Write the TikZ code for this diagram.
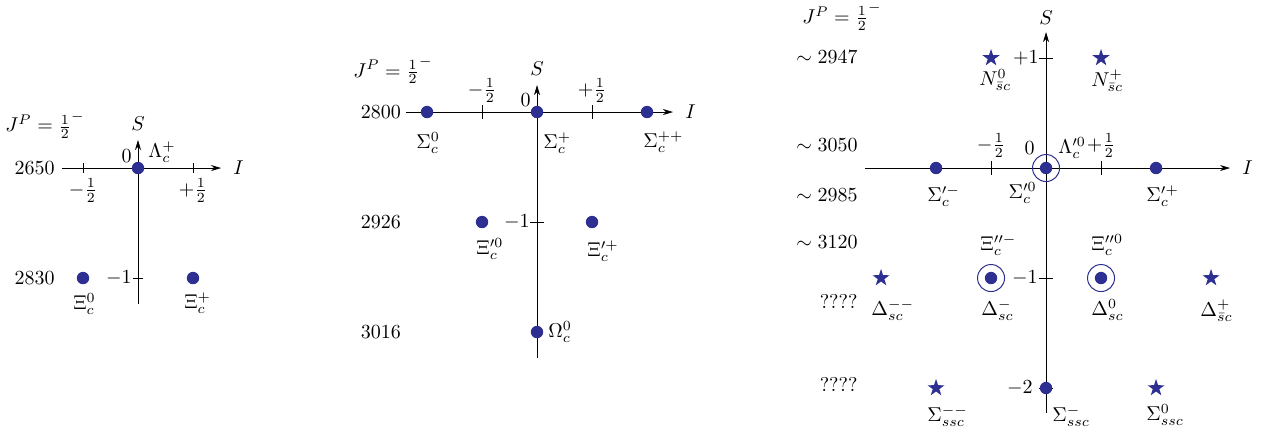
\documentclass[tikz,border=0pt]{standalone}
\usetikzlibrary{positioning,shapes.geometric,arrows.meta}
\definecolor{ptblue}{RGB}{45,48,145}
\tikzset{
  dot/.style={circle, fill=ptblue, inner sep=0pt, minimum size=6.2pt},
  ring/.style={circle, draw=ptblue, line width=0.5pt, inner sep=0pt, minimum size=13.5pt},
  starpt/.style={star, star points=5, star point ratio=2.6, fill=ptblue, inner sep=0pt, minimum size=9pt},
  lbl/.style={inner sep=0pt},
}
\begin{document}
\begin{tikzpicture}[x=1.933cm, y=1.933cm, >={Stealth[length=5pt, width=3pt, inset=1.5pt]}]
\useasboundingbox (0,0) rectangle (11.536,3.964);

% ---------- antitriplet: Lambda_c, Xi_c
\begin{scope}[shift={(1.2545,2.4364)}]
  % axes
  \coordinate (aW) at (-0.69,0);
  \coordinate (aE) at (0.755,0);
  \coordinate (aB) at (0,-1.236);
  \coordinate (aT) at (0,0.255);
  \draw[->] (aW) -- (aE);
  \draw[->] (aB) -- (aT);
  \node[lbl, right=6pt of aE] (aI) {$I$};
  \node[lbl, above=4.5pt of aT] (aS) {$S$};
  % ticks
  \foreach \t/\n in {-0.5/m, 0.5/p} {
    \draw (\t,-0.045) -- (\t,0.045);
    \coordinate (aT\n) at (\t,0);
  }
  \draw (-0.045,-1) -- (0.045,-1);
  \coordinate (aTs) at (0,-1);
  \node[lbl, below=5pt of aTm] (aHm) {$-\frac{1}{2}$};
  \node[lbl, below=5pt of aTp] (aHp) {$+\frac{1}{2}$};
  \node[lbl, left=3pt of aTs] (aSm) {$-1$};
  % masses
  \node[lbl] (aJ) at (-0.845,0.39) {$J^P=\frac{1}{2}^-$};
  \node[lbl, anchor=east] (aM1) at (-0.755,0) {2650};
  \node[lbl, anchor=east] (aM2) at (-0.755,-1) {2830};
  % states
  \node[dot] (a0) at (0,0) {};
  \node[dot] (aX0) at (-0.5,-1) {};
  \node[dot] (aXp) at (0.5,-1) {};
  \node[lbl, above right=2.5pt and 5pt of a0.center] (aLl) {$\Lambda_c^+$};
  \node[lbl, above left=2.5pt and 3pt of a0.center] (aZ) {$0$};
  \node[lbl, below right=7.3pt and -5pt of aX0.center] (aX0l) {$\Xi_c^0$};
  \node[lbl, below right=7.3pt and -4.5pt of aXp.center] (aXpl) {$\Xi_c^+$};
\end{scope}

% ---------- sextet: Sigma_c, Xi'_c, Omega_c
\begin{scope}[shift={(4.8818,2.9455)}]
  % axes
  \coordinate (bW) at (-1.19,0);
  \coordinate (bE) at (1.236,0);
  \coordinate (bB) at (0,-2.236);
  \coordinate (bT) at (0,0.245);
  \draw[->] (bW) -- (bE);
  \draw[->] (bB) -- (bT);
  \node[lbl, right=6pt of bE] (bI) {$I$};
  \node[lbl, above=4.5pt of bT] (bS) {$S$};
  % ticks
  \foreach \t/\n in {-0.5/m, 0.5/p} {
    \draw (\t,-0.06) -- (\t,0.06);
    \coordinate (bT\n) at (\t,0);
  }
  \draw (-0.06,-1) -- (0.06,-1);
  \coordinate (bTs) at (0,-1);
  \node[lbl, above=4.5pt of bTm] (bHm) {$-\frac{1}{2}$};
  \node[lbl, above=4.5pt of bTp] (bHp) {$+\frac{1}{2}$};
  \node[lbl, left=3.5pt of bTs] (bSm) {$-1$};
  % masses
  \node[lbl] (bJ) at (-1.31,0.38) {$J^P=\frac{1}{2}^-$};
  \node[lbl, anchor=east] (bM1) at (-1.235,0) {2800};
  \node[lbl, anchor=east] (bM2) at (-1.235,-1) {2926};
  \node[lbl, anchor=east] (bM3) at (-1.235,-2) {3016};
  % states
  \node[dot] (bSg0) at (-1,0) {};
  \node[dot] (b0) at (0,0) {};
  \node[dot] (bSgpp) at (1,0) {};
  \node[dot] (bX0) at (-0.5,-1) {};
  \node[dot] (bXp) at (0.5,-1) {};
  \node[dot] (bO) at (0,-2) {};
  \node[lbl, above left=2.5pt and 3pt of b0.center] (bZ) {$0$};
  \node[lbl, below right=10pt and -5.5pt of bSg0.center] (bSg0l) {$\Sigma_c^0$};
  \node[lbl, below right=10pt and 3pt of b0.center] (bSgpl) {$\Sigma_c^+$};
  \node[lbl, below right=9.5pt and -2pt of bSgpp.center] (bSgppl) {$\Sigma_c^{++}$};
  \node[lbl, below right=8pt and -3pt of bX0.center] (bX0l) {$\Xi_c^{\prime 0}$};
  \node[lbl, below right=9pt and -2.5pt of bXp.center] (bXpl) {$\Xi_c^{\prime +}$};
  \node[lbl, right=5.5pt of bO.center] (bOl) {$\Omega_c^0$};
\end{scope}

% ---------- predicted multiplet with open strangeness
\begin{scope}[shift={(9.5091,2.4364)}]
  % axes
  \coordinate (cW) at (-1.645,0);
  \coordinate (cE) at (1.673,0);
  \coordinate (cB) at (0,-2.227);
  \coordinate (cT) at (0,1.236);
  \draw[->] (cW) -- (cE);
  \draw[->] (cB) -- (cT);
  \node[lbl, right=6pt of cE] (cI) {$I$};
  \node[lbl, above=3.5pt of cT] (cS) {$S$};
  % ticks
  \foreach \t/\n in {-0.5/m, 0.5/p} {
    \draw (\t,-0.06) -- (\t,0.06);
    \coordinate (cT\n) at (\t,0);
  }
  \foreach \s/\n in {1/a, -1/b, -2/c} {
    \draw (-0.06,\s) -- (0.06,\s);
    \coordinate (cTs\n) at (0,\s);
  }
  \node[lbl, above=5pt of cTm] (cHm) {$-\frac{1}{2}$};
  \node[lbl, above=5pt of cTp] (cHp) {$+\frac{1}{2}$};
  \node[lbl, left=3.5pt of cTsa] (cSa) {$+1$};
  \node[lbl, left=4pt of cTsb] (cSb) {$-1$};
  \node[lbl, left=6.5pt of cTsc] (cSc) {$-2$};
  % masses
  \node[lbl] (cJ) at (-1.855,1.373) {$J^P=\frac{1}{2}^-$};
  \node[lbl, anchor=east] (cM1) at (-1.71,1.005) {$\sim 2947$};
  \node[lbl, anchor=east] (cM2) at (-1.71,0.21) {$\sim 3050$};
  \node[lbl, anchor=east] (cM3) at (-1.71,-0.245) {$\sim 2985$};
  \node[lbl, anchor=east] (cM4) at (-1.71,-0.677) {$\sim 3120$};
  \node[lbl, anchor=east] (cM5) at (-1.71,-1.214) {????};
  \node[lbl, anchor=east] (cM6) at (-1.71,-1.964) {????};
  % S = +1
  \node[starpt] (cN0) at (-0.5,1) {};
  \node[starpt] (cNp) at (0.5,1) {};
  \node[lbl, below right=5.5pt and -6pt of cN0.center] (cN0l) {$N^0_{\bar{s}c}$};
  \node[lbl, below right=5.5pt and -5pt of cNp.center] (cNpl) {$N^+_{\bar{s}c}$};
  % S = 0
  \node[dot] (cSgm) at (-1,0) {};
  \node[dot] (c0) at (0,0) {};
  \node[ring] (cR0) at (0,0) {};
  \node[dot] (cSgp) at (1,0) {};
  \node[lbl, above left=6.5pt and 5.5pt of c0.center] (cZ) {$0$};
  \node[lbl, above right=4.5pt and 6pt of c0.center] (cLl) {$\Lambda_c^{\prime 0}$};
  \node[lbl, below right=8.5pt and -4.5pt of cSgm.center] (cSgml) {$\Sigma_c^{\prime -}$};
  \node[lbl, below left=7pt and 4.5pt of c0.center] (cSg0l) {$\Sigma_c^{\prime 0}$};
  \node[lbl, below right=8.5pt and -5pt of cSgp.center] (cSgpl) {$\Sigma_c^{\prime +}$};
  % S = -1
  \node[starpt] (cDmm) at (-1.5,-1) {};
  \node[dot] (cXm) at (-0.5,-1) {};
  \node[ring] (cRm) at (-0.5,-1) {};
  \node[dot] (cXz) at (0.5,-1) {};
  \node[ring] (cRz) at (0.5,-1) {};
  \node[starpt] (cDp) at (1.5,-1) {};
  \node[lbl, above right=11pt and -5.5pt of cXm.center] (cXml) {$\Xi_c^{\prime\prime -}$};
  \node[lbl, above right=11pt and -5pt of cXz.center] (cXzl) {$\Xi_c^{\prime\prime 0}$};
  \node[lbl, below right=10.5pt and -5pt of cDmm.center] (cDmml) {$\Delta^{--}_{sc}$};
  \node[lbl, below right=10.5pt and -5pt of cXm.center] (cDml) {$\Delta^{-}_{sc}$};
  \node[lbl, below right=10.5pt and -5pt of cXz.center] (cDzl) {$\Delta^{0}_{sc}$};
  \node[lbl, below right=10.5pt and -5.5pt of cDp.center] (cDpl) {$\Delta^{+}_{\bar{s}c}$};
  % S = -2
  \node[starpt] (cSsmm) at (-1,-2) {};
  \node[dot] (cSsm) at (0,-2) {};
  \node[starpt] (cSs0) at (1,-2) {};
  \node[lbl, below right=8.5pt and -4.5pt of cSsmm.center] (cSsmml) {$\Sigma^{--}_{ssc}$};
  \node[lbl, below right=8.5pt and 3pt of cSsm.center] (cSsml) {$\Sigma^{-}_{ssc}$};
  \node[lbl, below right=8pt and -5pt of cSs0.center] (cSs0l) {$\Sigma^{0}_{ssc}$};
\end{scope}
\end{tikzpicture}
\end{document}
